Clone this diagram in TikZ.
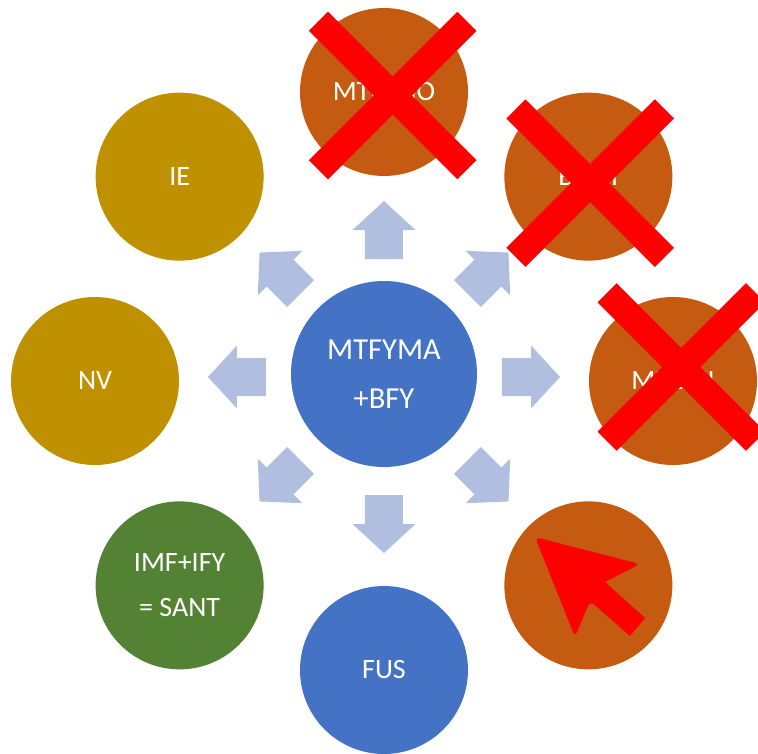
\documentclass[tikz,border=0pt]{standalone}
\usepackage{fontspec}
\setmainfont{Carlito}
\usepackage{xcolor}
\usetikzlibrary{calc}

\definecolor{hubblue}{HTML}{4472C4}
\definecolor{rust}{HTML}{C55A11}
\definecolor{mustard}{HTML}{BF9000}
\definecolor{leaf}{HTML}{548235}
\definecolor{paleblue}{HTML}{B0BEE0}

\begin{document}
\begin{tikzpicture}[x=1pt, y=1pt,
    prog/.style={circle, minimum size=168pt, inner sep=0pt, text=white, align=center,
        font=\fontsize{28}{44.8}\selectfont},
    hub/.style={prog, minimum size=186pt, fill=hubblue, font=\fontsize{30.5}{49}\selectfont},
    pointer/.style={fill=paleblue},
    cross/.style={fill=red}]
    % Frame with the margins of the slide
    \useasboundingbox (-384,-372) rectangle (374,381);

    % Central programme
    \node[hub] (mtfyma) at (0,7) {MTFYMA\\+BFY};

    % Block arrows pointing outwards
    \foreach \a in {0,45,...,315}
        \fill[pointer, shift={(0,4)}, rotate=\a]
            (118,-19) -- (147,-19) -- (147,-31.5) -- (176,0) -- (147,31.5) -- (147,19) -- (118,19) -- cycle;

    % Programmes round the ring
    \node[prog, fill=rust] (mtekno) at (90:289) {MTEKNO};
    \node[prog, fill=rust] (bmei) at (45:289) {BMEI};
    \node[prog, fill=rust] (mkemi) at (0:289) {MKEMI};
    \node[prog, fill=rust] (spare) at (-45:289) {};
    \node[prog, fill=hubblue] (fus) at (-90:289) {FUS};
    \node[prog, fill=leaf] (imf) at (-135:289) {IMF+IFY\\= SANT};
    \node[prog, fill=mustard] (nv) at (180:289) {NV};
    \node[prog, fill=mustard] (ie) at (135:289) {IE};

    % Crossed-out programmes
    \coordinate (x1) at ($(mtekno)+(8.7,-3.5)$);
    \coordinate (x2) at ($(bmei)+(1.8,-6.5)$);
    \coordinate (x3) at ($(mkemi)+(8.3,14)$);
    \foreach \c in {x1,x2,x3} {
        \fill[cross, shift={(\c)}, rotate=45] (-105,-13.5) rectangle (105,13.5);
        \fill[cross, shift={(\c)}, rotate=-45] (-105,-13.5) rectangle (105,13.5);
    }

    % Mouse pointer in the empty circle
    \fill[cross] (206,-220) -- (246,-255) -- (261,-237) -- (221,-201)
        [rounded corners=5] -- (256,-183) -- (151,-156) -- (191,-256) -- cycle;
\end{tikzpicture}
\end{document}
